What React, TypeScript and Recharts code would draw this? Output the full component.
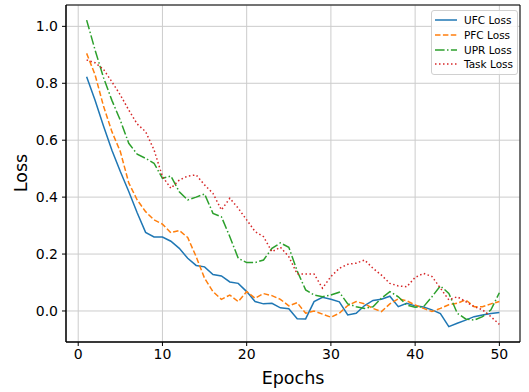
import { CartesianGrid, Label, Line, LineChart, ReferenceArea, XAxis, YAxis } from "recharts";

document.body.style.margin = "0";

const epochs = Array.from({ length: 50 }, (_, i) => i + 1);

const ufcLoss = [
  0.823, 0.74, 0.65, 0.565, 0.49, 0.42, 0.345, 0.276, 0.26, 0.26,
  0.245, 0.22, 0.185, 0.16, 0.155, 0.128, 0.123, 0.102, 0.097, 0.068,
  0.033, 0.025, 0.027, 0.011, 0.008, -0.027, -0.028, 0.033, 0.048, 0.041,
  0.032, -0.014, -0.008, 0.019, 0.037, 0.041, 0.052, 0.015, 0.027, 0.018,
  0.014, 0.004, -0.009, -0.055, -0.043, -0.032, -0.02, -0.014, -0.009, -0.005,
];

const pfcLoss = [
  0.905, 0.83, 0.72, 0.63, 0.56, 0.45, 0.39, 0.349, 0.32, 0.305,
  0.275, 0.283, 0.258, 0.191, 0.115, 0.068, 0.041, 0.056, 0.033, 0.068,
  0.045, 0.061, 0.054, 0.041, 0.018, 0.029, -0.008, 0.0, -0.011, -0.022,
  -0.008, 0.019, 0.033, 0.025, 0.009, -0.002, 0.025, 0.043, 0.036, 0.021,
  0.009, -0.002, 0.009, 0.022, 0.027, 0.039, 0.015, 0.015, 0.025, 0.033,
];

const uprLoss = [
  1.022, 0.917, 0.82, 0.74, 0.67, 0.589, 0.551, 0.536, 0.519, 0.466,
  0.474, 0.419, 0.39, 0.4, 0.411, 0.343, 0.331, 0.261, 0.185, 0.17,
  0.17, 0.179, 0.22, 0.239, 0.224, 0.14, 0.074, 0.056, 0.05, 0.056,
  0.066, 0.025, 0.015, 0.009, 0.015, 0.045, 0.068, 0.05, 0.021, 0.013,
  0.015, 0.05, 0.088, 0.062, -0.008, -0.028, -0.032, -0.02, 0.004, 0.064,
];

const taskLoss = [
  0.882, 0.872, 0.849, 0.805, 0.759, 0.706, 0.657, 0.63, 0.566, 0.472,
  0.431, 0.46, 0.474, 0.478, 0.443, 0.413, 0.355, 0.396, 0.361, 0.32,
  0.279, 0.261, 0.208, 0.224, 0.191, 0.13, 0.13, 0.13, 0.08, 0.121,
  0.15, 0.164, 0.168, 0.179, 0.15, 0.126, 0.097, 0.088, 0.085, 0.118,
  0.132, 0.121, 0.08, 0.039, 0.05, 0.033, 0.015, 0.004, -0.02, -0.047,
];

const xTicks = [0, 10, 20, 30, 40, 50];
const yTicks = [0, 0.2, 0.4, 0.6, 0.8, 1.0];

const data = epochs.map((epoch, i) => ({
  epoch,
  ufc: ufcLoss[i],
  pfc: pfcLoss[i],
  upr: uprLoss[i],
  task: taskLoss[i],
}));

const FONT = "DejaVu Sans, sans-serif";
const X_DOMAIN: [number, number] = [-1.45, 52.45];
const Y_DOMAIN: [number, number] = [-0.109, 1.075];

const series = [
  { key: "ufc", name: "UFC Loss", color: "#1f77b4", dash: undefined },
  { key: "pfc", name: "PFC Loss", color: "#ff7f0e", dash: "5.5 2.4" },
  { key: "upr", name: "UPR Loss", color: "#2ca02c", dash: "9.6 2.4 1.5 2.4" },
  { key: "task", name: "Task Loss", color: "#d62728", dash: "1.5 2.5" },
];

function LegendBox() {
  return (
    <div
      style={{
        position: "absolute",
        top: 10,
        left: 431,
        border: "1px solid #d0d0d0",
        borderRadius: 3,
        background: "rgba(255,255,255,0.85)",
        padding: "2px 4px 2px 3px",
        fontFamily: FONT,
        fontSize: 10.5,
        color: "#000",
        whiteSpace: "nowrap",
      }}
    >
      {series.map((s) => (
        <div key={s.key} style={{ display: "flex", alignItems: "center", height: 14.7 }}>
          <svg width={22} height={6} style={{ marginRight: 7 }}>
            <line x1={0} y1={3} x2={22} y2={3} stroke={s.color} strokeWidth={1.5} strokeDasharray={s.dash} />
          </svg>
          <span>{s.name}</span>
        </div>
      ))}
    </div>
  );
}

export default function App() {
  return (
    <div style={{ position: "relative", width: 529, height: 392 }}>
      <LineChart width={529} height={392} data={data} margin={{ top: 5, right: 9, bottom: 0, left: 0 }}>
        <CartesianGrid stroke="#cccccc" strokeWidth={1} />
        <XAxis
          dataKey="epoch"
          type="number"
          domain={X_DOMAIN}
          ticks={xTicks}
          allowDataOverflow
          height={50}
          tickSize={4}
          tickMargin={3}
          stroke="#000"
          tick={{ fill: "#000", fontSize: 14, fontFamily: FONT }}
        >
          <Label
            content={() => (
              <text x={293} y={378} textAnchor="middle" dominantBaseline="central" fontSize={17.5} fontFamily={FONT} fill="#000">
                Epochs
              </text>
            )}
          />
        </XAxis>
        <YAxis
          type="number"
          domain={Y_DOMAIN}
          ticks={yTicks}
          allowDataOverflow
          width={66}
          tickSize={4}
          tickMargin={4}
          stroke="#000"
          tickFormatter={(v: number) => v.toFixed(1)}
          tick={{ fill: "#000", fontSize: 14, fontFamily: FONT }}
        >
          <Label
            content={() => (
              <text
                x={21}
                y={173}
                transform="rotate(-90 21 173)"
                textAnchor="middle"
                dominantBaseline="central"
                fontSize={17.5}
                fontFamily={FONT}
                fill="#000"
              >
                Loss
              </text>
            )}
          />
        </YAxis>
        <ReferenceArea x1={X_DOMAIN[0]} x2={X_DOMAIN[1]} y1={Y_DOMAIN[0]} y2={Y_DOMAIN[1]} fill="none" stroke="#000" strokeWidth={1} />
        {series.map((s) => (
          <Line
            key={s.key}
            type="linear"
            dataKey={s.key}
            name={s.name}
            stroke={s.color}
            strokeWidth={1.5}
            strokeDasharray={s.dash}
            dot={false}
            activeDot={false}
            isAnimationActive={false}
          />
        ))}
      </LineChart>
      <LegendBox />
    </div>
  );
}
